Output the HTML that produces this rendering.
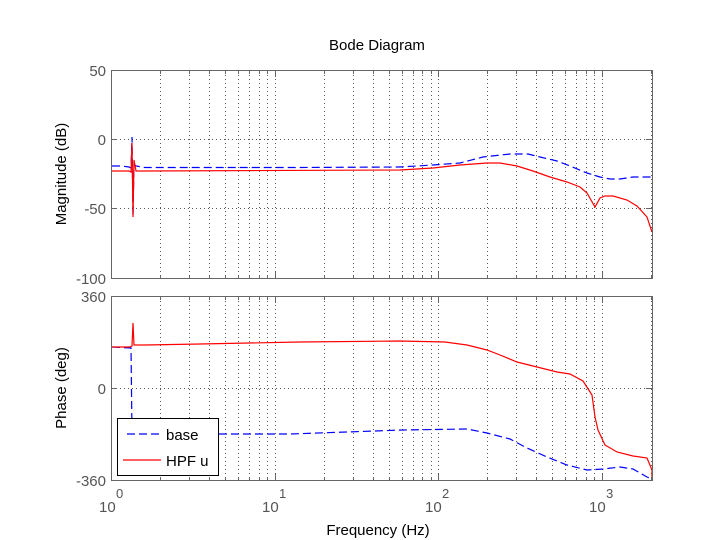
<!DOCTYPE html>
<html><head><style>body{margin:0;background:#fff}svg{display:block}text{font-family:"Liberation Sans",sans-serif;}</style></head>
<body>
<svg id="s" width="720" height="540" xmlns="http://www.w3.org/2000/svg">
<rect width="720" height="540" fill="#fff"/>
<g id="grid" stroke="#555" stroke-width="1" stroke-dasharray="1,3"></g>
<text x="377" y="50" font-size="15" text-anchor="middle">Bode Diagram</text>
<g font-size="15" fill="#555" text-anchor="end">
<text x="106" y="76">50</text><text x="106" y="145">0</text><text x="106" y="214">-50</text><text x="106" y="284">-100</text>
<text x="106" y="302">360</text><text x="106" y="394">0</text><text x="106" y="486">-360</text>
</g>
<g font-size="15" fill="#555">
<text x="99" y="512">10</text><text x="116" y="498" font-size="13">0</text>
<text x="262" y="512">10</text><text x="279" y="498" font-size="13">1</text>
<text x="425" y="512">10</text><text x="442" y="498" font-size="13">2</text>
<text x="589" y="512">10</text><text x="606" y="498" font-size="13">3</text>
</g>
<text x="378" y="535" font-size="15" text-anchor="middle">Frequency  (Hz)</text>
<text transform="translate(66,174) rotate(-90)" font-size="15" text-anchor="middle">Magnitude (dB)</text>
<text transform="translate(66,388) rotate(-90)" font-size="15" text-anchor="middle">Phase (deg)</text>
<g fill="none" stroke-width="1.2">
<polyline stroke="#00f" stroke-dasharray="8,4" points="112,166 122,166 129,167 131,168 132,137 133,216 134,164 136,166 145,167.5 300,167.5 400,167 433,165 460,163 483,157 510,154 528,154 540,157 557,161 570,166 587,173 600,177 610,179 620,179 633,177 652,177"/>
<polyline stroke="#f00" points="112,171 129,171 131,172 132,143 133,217 134,160 136,171 145,171 400,170 433,168 460,165 487,163 500,163 517,166 533,171 550,177 567,182 580,187 587,193 595,207 600,198 605,196 613,196 627,200 637,206 647,217 652,232"/>
<polyline stroke="#00f" stroke-dasharray="8,4" points="112,347 131,348 132,434 290,434 403,430 467,429 487,433 510,439 527,448 547,457 567,465 587,470 603,469 620,467 633,469 647,477 652,479"/>
<polyline stroke="#f00" points="112,347 130,347 132,346 133,323 134,345 145,345 200,344 300,342 400,341 445,342 467,345 487,350 500,355 517,362 537,367 557,372 570,374 583,381 592,395 595,417 598,430 605,445 617,452 633,456 647,458 652,470 652,477"/>
</g>
<g fill="none" stroke="#666" stroke-width="1">
<rect x="111.5" y="70.5" width="541" height="208"/>
<rect x="111.5" y="296.5" width="541" height="184"/>
</g>
<g id="ticks" stroke="#666" stroke-width="1"></g>
<rect x="117.5" y="418.5" width="101" height="57" fill="#fff" stroke="#000"/>
<line x1="127" y1="434" x2="163" y2="434" stroke="#00f" stroke-width="1.2" stroke-dasharray="8,4"/>
<text x="166" y="440" font-size="15">base</text>
<line x1="123" y1="460" x2="161" y2="460" stroke="#f00" stroke-width="1.2"/>
<text x="166" y="466" font-size="15">HPF u</text>
</svg>
<script>
var g=document.getElementById('grid'),t=document.getElementById('ticks'),ns="http://www.w3.org/2000/svg";
function L(p,a,b,c,d){var l=document.createElementNS(ns,'line');l.setAttribute('x1',a);l.setAttribute('y1',b);l.setAttribute('x2',c);l.setAttribute('y2',d);p.appendChild(l);}
for(var dd=0;dd<4;dd++)for(var k=1;k<10;k++){var f=k*Math.pow(10,dd);if(f>2065)break;var x=Math.round(111+163.5*Math.log10(f))+0.5;if(f>1){L(g,x,71,x,278);L(g,x,297,x,480);}
var tl=(k==1)?6:3;L(t,x,278,x,278-tl);L(t,x,71,x,71+tl);L(t,x,480,x,480-tl);L(t,x,297,x,297+tl);}
L(g,112,139.5,652,139.5);L(g,112,208.5,652,208.5);L(g,112,388.5,652,388.5);
[70.5,139.5,208.5,278.5].forEach(function(y){L(t,111,y,117,y);L(t,652,y,646,y);});
[296.5,388.5,480.5].forEach(function(y){L(t,111,y,117,y);L(t,652,y,646,y);});
</script>
</body></html>
